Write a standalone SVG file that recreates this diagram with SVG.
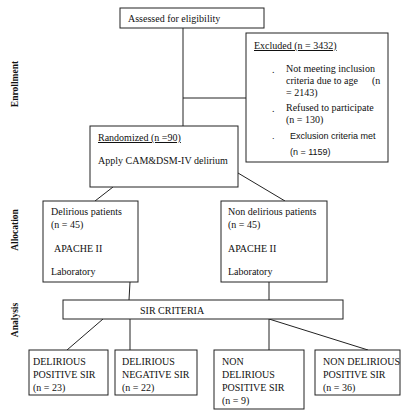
<svg xmlns="http://www.w3.org/2000/svg" width="411" height="414" viewBox="0 0 411 414">
<style>
.box{fill:#fff;stroke:#222;stroke-width:1}
.t{font-family:"Liberation Serif","Times New Roman",serif;font-size:10px;fill:#111}
.s{font-family:"Liberation Sans",Arial,sans-serif;font-size:9px;fill:#111}
.side{font-family:"Liberation Serif","Times New Roman",serif;font-size:9.5px;font-weight:bold;fill:#111}
.c{stroke:#222;stroke-width:1;fill:none}
</style>
<rect width="411" height="414" fill="#fff"/>
<g id="connectors">
<line class="c" x1="183" y1="28" x2="183" y2="126"/>
<line class="c" x1="183" y1="98" x2="246" y2="98"/>
<line class="c" x1="113" y1="187" x2="95" y2="201"/>
<line class="c" x1="238" y1="173" x2="285" y2="201"/>
<line class="c" x1="130" y1="282" x2="129" y2="300"/>
<line class="c" x1="269" y1="282" x2="269" y2="300"/>
<line class="c" x1="103" y1="319" x2="67" y2="350"/>
<line class="c" x1="130" y1="319" x2="130" y2="350"/>
<line class="c" x1="269" y1="319" x2="269" y2="350"/>
<line class="c" x1="269" y1="319" x2="368" y2="350"/>
</g>
<g id="labels">
<text class="side" transform="translate(18,84) rotate(-90)" text-anchor="middle">Enrollment</text>
<text class="side" transform="translate(18,230) rotate(-90)" text-anchor="middle">Allocation</text>
<text class="side" transform="translate(18,320) rotate(-90)" text-anchor="middle">Analysis</text>
</g>
<g id="assessed">
<rect class="box" x="120" y="8" width="144" height="20"/>
<text class="t" x="128" y="22">Assessed for eligibility</text>
</g>
<g id="excluded">
<rect class="box" x="246" y="33" width="142" height="129"/>
<text class="t" x="254" y="49" text-decoration="underline">Excluded (n = 3432)</text>
<text class="t" x="272" y="73">.</text>
<text class="t" x="286" y="72">Not meeting inclusion</text>
<text class="t" x="286" y="84">criteria due to age</text>
<text class="t" x="372" y="84">(n</text>
<text class="t" x="286" y="96">= 2143)</text>
<text class="t" x="272" y="112">.</text>
<text class="t" x="286" y="111">Refused to participate</text>
<text class="t" x="286" y="123">(n = 130)</text>
<text class="s" x="272" y="139">.</text>
<text class="s" x="290" y="139">Exclusion criteria met</text>
<text class="s" x="290" y="155">(n = 1159)</text>
</g>
<g id="randomized">
<rect class="box" x="90" y="126" width="148" height="61"/>
<text class="t" x="98" y="141" text-decoration="underline">Randomized (n =90)</text>
<text class="t" x="98" y="164">Apply CAM&amp;DSM-IV delirium</text>
</g>
<g id="delirious">
<rect class="box" x="43" y="201" width="95" height="81"/>
<text class="t" x="51" y="215">Delirious patients</text>
<text class="t" x="51" y="228">(n = 45)</text>
<text class="t" x="54" y="252">APACHE II</text>
<text class="t" x="51" y="275">Laboratory</text>
</g>
<g id="nondelirious">
<rect class="box" x="221" y="201" width="106" height="81"/>
<text class="t" x="228" y="215">Non delirious patients</text>
<text class="t" x="228" y="228">(n = 45)</text>
<text class="t" x="228" y="252">APACHE II</text>
<text class="t" x="228" y="275">Laboratory</text>
</g>
<g id="sir">
<rect class="box" x="63" y="300" width="280" height="19"/>
<text class="t" x="140" y="314">SIR CRITERIA</text>
</g>
<g id="delpos">
<rect class="box" x="29" y="350" width="79" height="45"/>
<text class="t" x="33" y="365">DELIRIOUS</text>
<text class="t" x="33" y="378">POSITIVE SIR</text>
<text class="t" x="33" y="391">(n = 23)</text>
</g>
<g id="delneg">
<rect class="box" x="115" y="350" width="82" height="45"/>
<text class="t" x="122" y="365">DELIRIOUS</text>
<text class="t" x="122" y="378">NEGATIVE SIR</text>
<text class="t" x="122" y="391">(n = 22)</text>
</g>
<g id="nondelpos">
<rect class="box" x="214" y="350" width="90" height="59"/>
<text class="t" x="222" y="365">NON</text>
<text class="t" x="222" y="378">DELIRIOUS</text>
<text class="t" x="222" y="391">POSITIVE SIR</text>
<text class="t" x="222" y="404">(n = 9)</text>
</g>
<g id="nondelpos2">
<rect class="box" x="315" y="350" width="85" height="45"/>
<text class="t" x="323" y="365">NON DELIRIOUS</text>
<text class="t" x="323" y="378">POSITIVE SIR</text>
<text class="t" x="323" y="391">(n = 36)</text>
</g>
</svg>
